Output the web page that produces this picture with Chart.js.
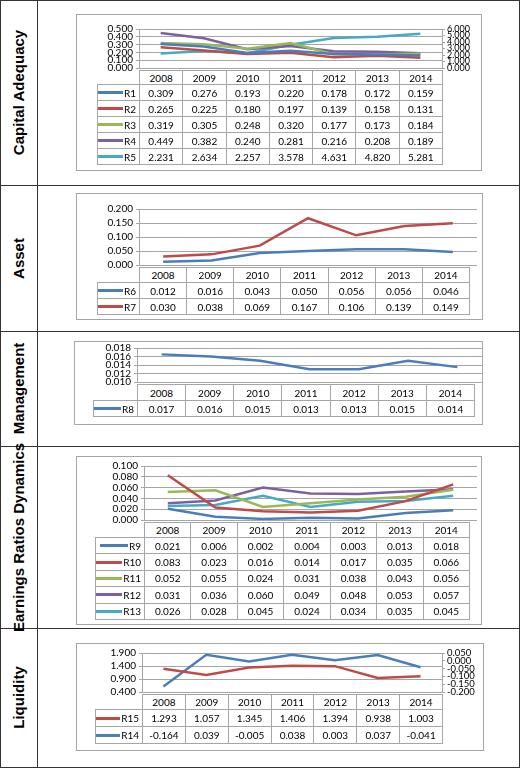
<!DOCTYPE html>
<html><head><meta charset="utf-8">
<script src="https://cdn.jsdelivr.net/npm/chart.js@4/dist/chart.umd.min.js"></script>
<style>
body{margin:0;background:#fff;font-family:Lato,"Liberation Sans",sans-serif;}
#page{position:relative;width:520px;height:768px;}
.hline{position:absolute;left:0;width:520px;height:1px;background:#333;}
.vline{position:absolute;top:0;height:768px;width:1px;background:#333;}
.rlabel{position:absolute;left:0;width:37px;display:flex;align-items:center;justify-content:center;}
.rlabel span{transform:rotate(-90deg);white-space:nowrap;font:bold 15px "Liberation Sans",Arial,sans-serif;color:#000;}
.box{position:absolute;border:1px solid #a6a6a6;box-sizing:border-box;}
canvas{position:absolute;}
.cell{position:absolute;box-sizing:border-box;border:1px solid #a6a6a6;font-size:10px;color:#000;display:flex;align-items:center;justify-content:center;background:#fff;}
.leg{justify-content:flex-end;padding-right:3px;}
.leg i{display:inline-block;width:28px;height:3px;margin-right:1px;}
</style></head><body><div id="page"></div>
<script>
const years=["2008","2009","2010","2011","2012","2013","2014"];
const R1=[0.309,0.276,0.193,0.220,0.178,0.172,0.159];
const R2=[0.265,0.225,0.180,0.197,0.139,0.158,0.131];
const R3=[0.319,0.305,0.248,0.320,0.177,0.173,0.184];
const R4=[0.449,0.382,0.240,0.281,0.216,0.208,0.189];
const R5=[2.231,2.634,2.257,3.578,4.631,4.820,5.281];
const R6=[0.012,0.016,0.043,0.050,0.056,0.056,0.046];
const R7=[0.030,0.038,0.069,0.167,0.106,0.139,0.149];
const R8=[0.0165,0.0160,0.0150,0.0130,0.0130,0.0150,0.0135];
const R9=[0.021,0.006,0.002,0.004,0.003,0.013,0.018];
const R10=[0.083,0.023,0.016,0.014,0.017,0.035,0.066];
const R11=[0.052,0.055,0.024,0.031,0.038,0.043,0.056];
const R12=[0.031,0.036,0.060,0.049,0.048,0.053,0.057];
const R13=[0.026,0.028,0.045,0.024,0.034,0.035,0.045];
const R15=[1.293,1.057,1.345,1.406,1.394,0.938,1.003];
const R14=[-0.164,0.039,-0.005,0.038,0.003,0.037,-0.041];
const rowLabels=["Capital Adequacy","Asset","Management","Earnings Ratios Dynamics","Liquidity"];

const C={blue:"#4a7ebb",red:"#be4b48",green:"#98b954",purple:"#7d60a0",cyan:"#46aac5"};
const panels=[
 {box:[76,14,482,171],plot:[139,27,442,70],tl:97,hh:14,rh:16,rw:40,
  left:[0,0.5,0.1],right:[0,6,1],rfont:9,
  series:[["R1",R1,C.blue],["R2",R2,C.red],["R3",R3,C.green],["R4",R4,C.purple],["R5",R5,C.cyan,1]]},
 {box:[76,193,483,320],plot:[139,207,469,267],tl:97,hh:15,rh:16,
  left:[0,0.2,0.05],series:[["R6",R6,C.blue],["R7",R7,C.red]]},
 {box:[74,341,483,425],plot:[137,346,474,384],tl:93,hh:16,rh:16,
  left:[0.010,0.018,0.002],series:[["R8",R8,C.blue]]},
 {box:[76,456,482,625],plot:[144,464,469,522],tl:95,hh:15,rh:16.4,
  left:[0,0.1,0.02],series:[["R9",R9,C.blue],["R10",R10,C.red],["R11",R11,C.green],["R12",R12,C.purple],["R13",R13,C.cyan]]},
 {box:[76,643,484,751],plot:[142,651,442,694],tl:95,hh:15,rh:17,rw:42,
  left:[0.4,1.9,0.5],right:[-0.2,0.05,0.05],rfont:9.5,
  series:[["R15",R15,C.red],["R14",R14,C.blue,1]]}
];
const fmt=v=>(Math.round(v*1000+(v>=0?1e-6:-1e-6))/1000).toFixed(3);
const page=document.getElementById('page');
function el(tag,cls,css,html){const e=document.createElement(tag);if(cls)e.className=cls;Object.assign(e.style,css||{});if(html!==undefined)e.innerHTML=html;page.appendChild(e);return e;}
[0,185,331,446,628,767].forEach(y=>el('div','hline',{top:y+'px'}));
[0,37,519].forEach(x=>el('div','vline',{left:x+'px'}));
const rowB=[0,185,331,446,628,767];
rowLabels.forEach((t,i)=>el('div','rlabel',{top:rowB[i]+'px',height:(rowB[i+1]-rowB[i])+'px'},'<span>'+t+'</span>'));

panels.forEach(p=>{
  const [bx0,by0,bx1,by1]=p.box;
  el('div','box',{left:bx0+'px',top:by0+'px',width:(bx1-bx0)+'px',height:(by1-by0)+'px'});
  const [px0,py0,px1,py1]=p.plot;
  const cl=bx0+2, ct=py0-7, rw=p.right?p.rw:8;
  const cw=px1+rw-cl, ch=py1+7-ct;
  const lw=px0-cl;
  const cv=el('canvas',null,{left:cl+'px',top:ct+'px',width:cw+'px',height:ch+'px'});
  cv.width=cw;cv.height=ch;
  const tickFont={family:'Lato',size:10};
  const scales={
    x:{type:'category',labels:years,offset:true,display:false},
    y:{position:'left',min:p.left[0],max:p.left[1],afterFit:s=>{s.width=lw;},
       ticks:{stepSize:p.left[2],color:'#000',font:tickFont,padding:3,autoSkip:false,callback:v=>Number(v).toFixed(3)},
       grid:{color:'#a6a6a6',tickLength:3,drawTicks:true},border:{color:'#a6a6a6'}}
  };
  if(p.right){
    scales.y1={position:'right',min:p.right[0],max:p.right[1],afterFit:s=>{s.width=rw;},
      ticks:{stepSize:p.right[2],color:'#000',font:{family:'Lato',size:p.rfont},padding:2,autoSkip:false,callback:v=>Number(v).toFixed(3)},
      grid:{drawOnChartArea:false,color:'#a6a6a6',tickLength:3},border:{color:'#a6a6a6'}};
  }
  new Chart(cv,{type:'line',
    data:{labels:years,datasets:p.series.map(s=>({label:s[0],data:s[1],borderColor:s[2],backgroundColor:s[2],borderWidth:2.5,pointRadius:0,tension:0,yAxisID:s[3]?'y1':'y'}))},
    options:{responsive:false,animation:false,devicePixelRatio:1,
      layout:{padding:{left:0,right:0,top:7,bottom:7}},
      plugins:{legend:{display:false},tooltip:{enabled:false}},scales}});
  const colW=(px1-px0)/7;
  years.forEach((y,i)=>el('div','cell',{left:(px0+i*colW)+'px',top:py1+'px',width:(colW+1)+'px',height:(p.hh+1)+'px'},y));
  p.series.forEach((s,r)=>{
    const top=py1+p.hh+r*p.rh;
    el('div','cell leg',{left:p.tl+'px',top:top+'px',width:(px0-p.tl+1)+'px',height:(p.rh+1)+'px'},'<i style="background:'+s[2]+'"></i>'+s[0]);
    s[1].forEach((v,i)=>el('div','cell',{left:(px0+i*colW)+'px',top:top+'px',width:(colW+1)+'px',height:(p.rh+1)+'px'},fmt(v)));
  });
});
</script></body></html>
